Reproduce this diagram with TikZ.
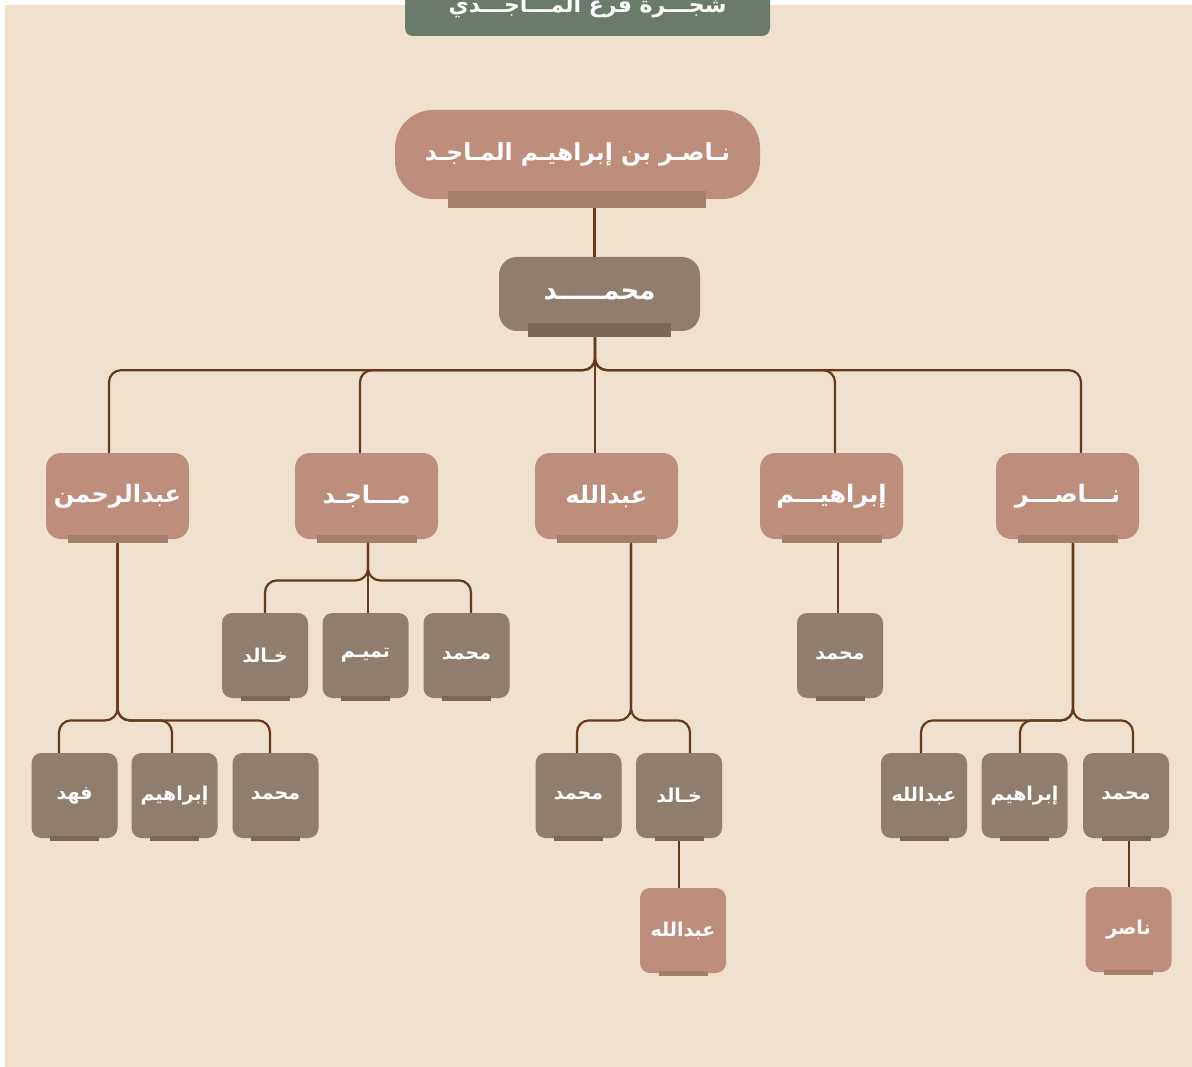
\documentclass[tikz,border=0pt]{standalone}
\usepackage{fontspec}
\newfontfamily\arabicfont[Script=Arabic]{DejaVu Sans}
\TeXXeTstate=1
\newcommand\AR[1]{\beginR #1\endR}
\definecolor{bgbeige}{HTML}{F0E0CE}
\definecolor{rosefill}{HTML}{BC8E7B}
\definecolor{rosebarc}{HTML}{A67E6C}
\definecolor{grayfill}{HTML}{8F7E6D}
\definecolor{graybarc}{HTML}{7A6857}
\definecolor{linec}{HTML}{66391A}
\definecolor{titlec}{HTML}{6A7B6B}
\tikzset{
  anynode/.style={inner sep=0pt, text=white, font=\arabicfont\bfseries},
  rosenode/.style={anynode, fill=rosefill},
  graynode/.style={anynode, fill=grayfill},
  leafg/.style={graynode, minimum width=86pt, minimum height=85pt, rounded corners=10pt, font=\arabicfont\bfseries\fontsize{19}{22}\selectfont},
  leafr/.style={rosenode, minimum width=86pt, minimum height=85pt, rounded corners=10pt, font=\arabicfont\bfseries\fontsize{19}{22}\selectfont},
  midnode/.style={rosenode, minimum width=143pt, minimum height=86pt, rounded corners=15pt, font=\arabicfont\bfseries\fontsize{24}{28}\selectfont},
  rbar/.style={fill=rosebarc, inner sep=0pt},
  gbar/.style={fill=graybarc, inner sep=0pt},
  leafbar/.style={gbar, minimum width=49pt, minimum height=5pt},
  leafrbar/.style={rbar, minimum width=49pt, minimum height=5pt},
  midbar/.style={rbar, minimum width=100pt, minimum height=8pt},
  conn/.style={draw=linec, line width=2.2pt, rounded corners=12pt},
}
\begin{document}
\begin{tikzpicture}[x=1pt, y=-1pt]
\useasboundingbox (0,0) rectangle (1192,1067);
\fill[bgbeige] (5,5) rectangle (1192,1067);
% title
\node[anynode, fill=titlec, rounded corners=8pt, minimum width=365pt, minimum height=76pt,
      text height=30pt, text depth=0pt,
      font=\arabicfont\bfseries\fontsize{22}{26}\selectfont] (title) at (587.5,-2) {\AR{شجـــرة فرع المـــاجـــدي}};
% root
\node[rosenode, minimum width=365pt, minimum height=89pt, rounded corners=38pt,
      font=\arabicfont\bfseries\fontsize{23.5}{27}\selectfont] (root) at (577.5,154.5) {\AR{نـاصـر بن إبراهيـم المـاجـد}};
\node[rbar, minimum width=258pt, minimum height=17pt] (rootbar) at (577,199.5) {};
% mohammad
\node[graynode, minimum width=201pt, minimum height=74pt, rounded corners=18pt,
      font=\arabicfont\bfseries\fontsize{26}{30}\selectfont] (m) at (599.5,294) {\AR{محمـــــد}};
\node[gbar, minimum width=143pt, minimum height=14pt] (mbar) at (599.5,330) {};
% level 3
\node[midnode] (abr) at (117.5,496) {\AR{عبدالرحمن}};
\node[midnode] (maj) at (366.5,496) {\AR{مـــاجـد}};
\node[midnode] (abd) at (606.5,496) {\AR{عبدالله}};
\node[midnode] (ibr) at (831.5,496) {\AR{إبراهيـــم}};
\node[midnode] (nas) at (1067.5,496) {\AR{نـــاصـــر}};
\node[midbar] (abrb) at (abr.south) {};
\node[midbar] (majb) at (maj.south) {};
\node[midbar] (abdb) at (abd.south) {};
\node[midbar] (ibrb) at (ibr.south) {};
\node[midbar] (nasb) at (nas.south) {};
% leaves of majid
\node[leafg] (majk1) at (265,655.5) {\AR{خـالد}};
\node[leafg] (majk2) at (365.5,655.5) {\AR{تميـم}};
\node[leafg] (majk3) at (466.5,655.5) {\AR{محمد}};
% leaf of ibrahim
\node[leafg] (ibrk1) at (840,655.5) {\AR{محمد}};
% leaves of abdulrahman
\node[leafg] (abrk1) at (74.5,795.5) {\AR{فهد}};
\node[leafg] (abrk2) at (174.5,795.5) {\AR{إبراهيم}};
\node[leafg] (abrk3) at (275.5,795.5) {\AR{محمد}};
% leaves of abdullah
\node[leafg] (abdk1) at (578.5,795.5) {\AR{محمد}};
\node[leafg] (abdk2) at (679,795.5) {\AR{خـالد}};
% leaves of nasser
\node[leafg] (nask1) at (924,795.5) {\AR{عبدالله}};
\node[leafg] (nask2) at (1024.5,795.5) {\AR{إبراهيم}};
\node[leafg] (nask3) at (1126,795.5) {\AR{محمد}};
% grandchildren
\node[leafr] (gk1) at (683,930.5) {\AR{عبدالله}};
\node[leafr] (gk2) at (1128.5,929.5) {\AR{ناصر}};
% leaf bars
\foreach \n in {majk1,majk2,majk3,ibrk1,abrk1,abrk2,abrk3,abdk1,abdk2,nask1,nask2,nask3}
  \node[leafbar] (\n b) at (\n.south) {};
\node[leafrbar] (gk1b) at (gk1.south) {};
\node[leafrbar] (gk2b) at (gk2.south) {};
% connectors
\draw[conn] ([xshift=17.5pt]rootbar.south) -- ([xshift=17.5pt]rootbar.south |- m.north);
\coordinate (t) at ([xshift=-4.5pt]mbar.south);
\draw[conn] (t) -- ++(0,33) -| ([xshift=-8.5pt]abr.north);
\draw[conn] (t) -- ++(0,33) -| ([xshift=-6.5pt]maj.north);
\draw[conn] (t) -- (t |- abd.north);
\draw[conn] (t) -- ++(0,33) -| ([xshift=3.5pt]ibr.north);
\draw[conn] (t) -- ++(0,33) -| ([xshift=13.5pt]nas.north);
% majid
\coordinate (tm) at ([xshift=1.5pt]majb.south);
\draw[conn] (tm) -- ++(0,37) -| (majk1.north);
\draw[conn] (tm) -- (tm |- majk2.north);
\draw[conn] (tm) -- ++(0,37) -| ([xshift=4.5pt]majk3.north);
% ibrahim
\coordinate (ti) at ([xshift=6.5pt]ibrb.south);
\draw[conn] (ti) -- (ti |- ibrk1.north);
% abdulrahman
\coordinate (ta) at (abrb.south);
\draw[conn] (ta) -- ++(0,177) -| ([xshift=-15.5pt]abrk1.north);
\draw[conn] (ta) -- ++(0,177) -| ([xshift=-2.5pt]abrk2.north);
\draw[conn] (ta) -- ++(0,177) -| ([xshift=-5.5pt]abrk3.north);
% abdullah
\coordinate (td) at ([xshift=24.5pt]abdb.south);
\draw[conn] (td) -- ++(0,177) -| ([xshift=-1.5pt]abdk1.north);
\draw[conn] (td) -- ++(0,177) -| ([xshift=11pt]abdk2.north);
% nasser
\coordinate (tn) at ([xshift=5.5pt]nasb.south);
\draw[conn] (tn) -- ++(0,177) -| ([xshift=-3pt]nask1.north);
\draw[conn] (tn) -- ++(0,177) -| ([xshift=-4.5pt]nask2.north);
\draw[conn] (tn) -- ++(0,177) -| ([xshift=7pt]nask3.north);
% grandchildren
\draw[conn] (abdk2b.south) -- (abdk2b.south |- gk1.north);
\draw[conn] ([xshift=3pt]nask3b.south) -- ([xshift=3pt]nask3b.south |- gk2.north);
\end{tikzpicture}
\end{document}
